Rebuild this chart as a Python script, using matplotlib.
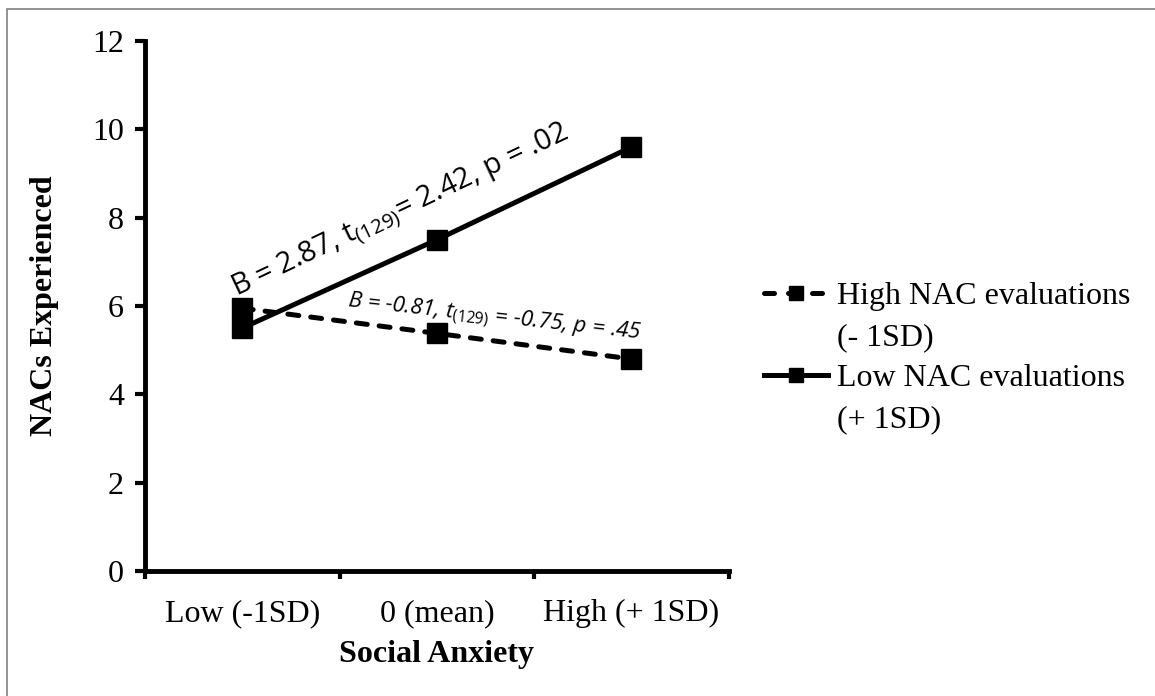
import matplotlib.pyplot as plt
from matplotlib.lines import Line2D
from matplotlib.patches import Rectangle

# Données
categories = ['Low (-1SD)', '0 (mean)', 'High (+ 1SD)']
high_nac = [5.95, 5.38, 4.8]   # High NAC evaluations (- 1SD)
low_nac = [5.5, 7.5, 9.6]      # Low NAC evaluations (+ 1SD)
y_ticks = [0, 2, 4, 6, 8, 10, 12]

plt.rcParams['font.family'] = ['Liberation Serif', 'DejaVu Serif']
plt.rcParams['mathtext.fontset'] = 'custom'
plt.rcParams['mathtext.rm'] = 'Open Sans'
plt.rcParams['mathtext.it'] = 'Open Sans:italic'

fs = 23

fig = plt.figure(figsize=(11.55, 6.96), dpi=100)
ax = fig.add_axes([0.1255, 0.1796, 0.5055, 0.7615])

x = [0.5, 1.5, 2.5]
lw = 3.6
ax.plot(x, high_nac, color='black', lw=lw, linestyle=(0, (2.2, 2.4)),
        dash_capstyle='round', marker='s', markersize=15)
ax.plot(x, low_nac, color='black', lw=lw, marker='s', markersize=15)

ax.set_xlim(0, 3)
ax.set_ylim(0, 12)
ax.set_yticks(y_ticks)
ax.set_xticks([0, 1, 2, 3])
ax.set_xticklabels([])
ax.set_xticks(x, minor=True)
ax.set_xticklabels(categories, minor=True)
ax.tick_params(axis='x', which='minor', length=0, pad=20, labelsize=fs)
ax.tick_params(axis='x', which='major', length=6, width=3, direction='out')
ax.tick_params(axis='y', length=7, width=3, direction='out', pad=8, labelsize=fs)

for s in ['top', 'right']:
    ax.spines[s].set_visible(False)
for s in ['left', 'bottom']:
    ax.spines[s].set_linewidth(3.5)

ax.set_xlabel('Social Anxiety', fontsize=fs, fontweight='bold', labelpad=9)
ax.set_ylabel('NACs Experienced', fontsize=fs, fontweight='bold', labelpad=24)

# Annotations
ax.text(0.47, 6.2, r'B = 2.87, t$_{(129)}$= 2.42, p = .02', family='Open Sans',
        fontsize=21, rotation=25.4, rotation_mode='anchor', ha='left', va='baseline')
ax.text(1.04, 5.98, r'B = -0.81, $\mathit{t}_{(129)}$ = -0.75, $\mathit{p}$ = .45',
        family='Open Sans', style='italic', fontsize=16, rotation=-6.3,
        rotation_mode='anchor', ha='left', va='baseline')

# Légende
h1 = Line2D([], [], color='black', lw=lw, linestyle=(0, (2.0, 2.8)),
            dash_capstyle='round', marker='s', markersize=10.5)
h2 = Line2D([], [], color='black', lw=lw, marker='s', markersize=10.5)
blank = Line2D([], [], color='none')
fig.legend([h1, blank, h2, blank],
           ['High NAC evaluations', '(- 1SD)', 'Low NAC evaluations', '(+ 1SD)'],
           loc='upper left', bbox_to_anchor=(0.637, 0.636), frameon=False,
           fontsize=fs, handlelength=2.0, handletextpad=0.28, labelspacing=0.36)

# Cadre gris
fig.add_artist(Rectangle((7 / 1155, -0.2), 1.2, 1.2 - 9 / 696,
                         transform=fig.transFigure, fill=False,
                         edgecolor='#808080', lw=1.2))

fig.savefig('out.png', dpi=100)
